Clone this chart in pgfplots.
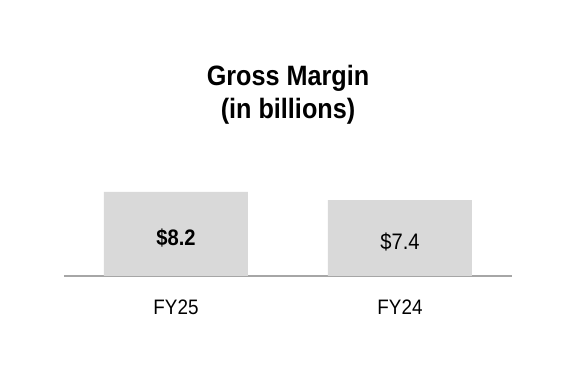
\documentclass[border=0pt]{standalone}
\usepackage{fontspec}
\setmainfont{Liberation Sans}[FakeStretch=0.9]
\usepackage{pgfplots}
\pgfplotsset{compat=1.18}
\definecolor{barfill}{HTML}{D9D9D9}
\definecolor{baseline}{HTML}{A6A6A6}
\begin{document}
\begin{tikzpicture}
\begin{axis}[
  scale only axis,
  width=336pt, height=76.875pt,
  xmin=-0.5, xmax=1.5, ymin=0, ymax=10,
  axis x line=bottom, axis y line=none,
  axis line style={draw=baseline, line width=1.2pt, -},
  xtick={0,1}, xticklabels={FY25,FY24},
  major tick length=0pt,
  xticklabel style={font=\fontsize{15.7}{18}\selectfont, anchor=base, yshift=-29.25pt},
  ytick=\empty,
  clip=false,
]
\addplot[ybar, bar width=108pt, fill=barfill, draw=none] coordinates {(0,8.2) (1,7.4)};
\node[anchor=base, font=\fontsize{16.8}{19}\selectfont\bfseries] at (axis cs:0,2.93) {\$8.2};
\node[anchor=base, font=\fontsize{16.8}{19}\selectfont] at (axis cs:1,2.63) {\$7.4};
\end{axis}
\node[anchor=base, font=\fontsize{21}{24}\selectfont\bfseries] at (168pt,142.5pt) {Gross Margin};
\node[anchor=base, font=\fontsize{21}{24}\selectfont\bfseries] at (168pt,117.75pt) {(in billions)};
\pgfresetboundingbox
\path[use as bounding box] (-48pt,-81pt) rectangle (384pt,207pt);
\end{tikzpicture}
\end{document}
